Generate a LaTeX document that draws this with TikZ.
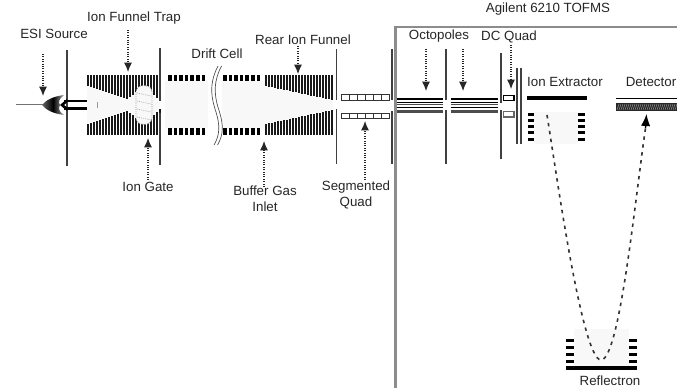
\documentclass[tikz,border=0pt]{standalone}
\usepackage{fontspec}
\setmainfont{Liberation Sans}
\usetikzlibrary{arrows.meta,shadings}
\definecolor{haze}{HTML}{F8F8F8}
\tikzset{
 x=0.75pt,y=-0.75pt,
 lbl/.style={inner sep=0pt,font=\fontsize{10pt}{12pt}\selectfont,text=black!85,align=center},
 plate/.style={line width=1.1pt,black!75},
 call/.style={densely dotted,line width=0.8pt,black!85,-{Latex[length=7pt,width=6pt]}},
 flight/.style={dash pattern=on 2.6pt off 3.4pt,line width=1.2pt,black!80},
 blk/.style={fill=black,draw=none},
 cell/.style={draw=black!80,fill=white,line width=0.7pt},
 gbox/.style={draw=black!45,line width=2pt},
}
\begin{document}
\begin{tikzpicture}
\useasboundingbox (0,0) rectangle (677,388);
\fill[white] (0,0) rectangle (677,388);
% instrument box
\draw[gbox] (395.5,389) -- (395.5,27) -- (678,27);
% haze regions
\fill[haze] (87,86) -- (129,99) -- (133,88) -- (150,92) -- (160,103) -- (160,107) -- (150,118) -- (133,122) -- (129,111) -- (87,124) -- cycle;
\fill[haze] (165,81) rectangle (208,128);
\fill[haze] (222,81) -- (265,81) -- (333,101) -- (333,109) -- (265,129) -- (222,129) -- cycle;
\fill[haze] (534,112) rectangle (578,144);
\fill[haze] (574,329) rectangle (629,366);
% funnel trap bars
\foreach \k in {0,...,13}{
 \pgfmathsetmacro\xx{88+3*\k}
 \pgfmathsetmacro\dd{11+13*\k/13}
 \fill[black!90] (\xx-0.9,75) rectangle (\xx+0.9,75+\dd);
 \fill[black!90] (\xx-0.9,135) rectangle (\xx+0.9,135-\dd);
}
\foreach \k in {14,...,24}{
 \pgfmathsetmacro\xx{88+3*\k}
 \pgfmathsetmacro\dd{(\k<20)?(24-2.2*(\k-13)):(14+3*(\k-20))}
 \fill[black!90] (\xx-0.9,75) rectangle (\xx+0.9,75+\dd);
 \fill[black!90] (\xx-0.9,135) rectangle (\xx+0.9,135-\dd);
}
% ion gate
\node[draw=black!45,densely dotted,fill=haze,rounded corners=5pt,minimum width=12pt,minimum height=29pt,inner sep=0pt,line width=0.6pt] (gate) at (144,105) {};
\foreach \k in {0,...,3}{
 \draw[black!45,densely dotted,line width=0.5pt] (137,{93+8*\k}) -- (151,{96+8*\k});
}
\fill[black!40] (96.5,102) rectangle (97.5,108);
% drift cell bars
\foreach \x in {168,173.6,179.2,184.8,190.4,196,201.6,223,228.6,234.2,239.8,245.4,251,256.6}{
 \fill[black] (\x,75) rectangle (\x+3.6,81);
 \fill[black] (\x,128) rectangle (\x+3.6,135);
}
% drift break
\fill[white] (208,60) rectangle (222,150);
\foreach \d in {0,3.5}{
 \draw[black!70,line width=0.5pt] (218+\d,66) .. controls (208+\d,85) and (212+\d,100) .. (216+\d,112) .. controls (220+\d,125) and (220+\d,135) .. (214+\d,145);
}
% rear funnel
\foreach \k in {0,...,22}{
 \pgfmathsetmacro\xx{266+3*\k}
 \pgfmathsetmacro\dd{11+14*\k/22}
 \fill[black!90] (\xx-0.9,75) rectangle (\xx+0.9,75+\dd);
 \fill[black!90] (\xx-0.9,135) rectangle (\xx+0.9,135-\dd);
}
% plates
\draw[plate] (67,50) -- (67,166);
\draw[plate] (160,48) -- (160,101) (160,113) -- (160,165);
\draw[plate] (336.5,49) -- (336.5,100) (336.5,109) -- (336.5,164);
\draw[plate] (392,49) -- (392,100) (392,111) -- (392,164);
\draw[plate] (446,49) -- (446,100) (446,110) -- (446,164);
\draw[plate] (501,53) -- (501,103) (501,110) -- (501,159);
\draw[plate] (517,68) -- (517,144);
\draw[plate] (521,68) -- (521,144);
% segmented quad
\foreach \k in {0,...,5}{
 \draw[cell] ({341+8*\k},94.5) rectangle ({349+8*\k},100);
 \draw[cell] ({341+8*\k},113.5) rectangle ({349+8*\k},118.5);
}
% octopoles
\foreach \a/\b in {397/443,451/498}{
 \fill[black] (\a,98) rectangle (\b,100.5);
 \draw[black,line width=0.6pt] (\a,102.5) -- (\b,102.5);
 \draw[black!70,line width=0.6pt] (\a,104.5) -- (\b,104.5);
 \draw[black,line width=0.8pt] (\a,107.5) -- (\b,107.5);
 \fill[black!70] (\a,110) rectangle (\b,113.5);
}
% DC quad
\draw[cell,line width=0.8pt,draw=black] (503.5,95.5) rectangle (514,100.5);
\draw[cell,line width=1pt,draw=black!60] (503.5,111.5) rectangle (514,117);
% ion extractor
\fill[blk] (527,96.5) rectangle (587,100.5);
\foreach \y in {115,121,127,133,140}{
 \fill[blk] (528,\y-1.5) rectangle (534,\y+1.5);
 \fill[blk] (578,\y-1.5) rectangle (585,\y+1.5);
}
% detector
\draw[black,line width=0.75pt] (616,98.5) -- (677,98.5);
\fill[black!85] (616,103) rectangle (677,111);
\foreach \k in {0,...,29}{
 \draw[black!45,line width=0.4pt] ({617+2*\k},110) -- ({619+2*\k},104);
}
% reflectron
\fill[blk] (566,366) rectangle (637,370);
\foreach \y in {340,347,354,361}{
 \fill[blk] (566,\y-1.5) rectangle (574,\y+1.5);
 \fill[blk] (629,\y-1.5) rectangle (637,\y+1.5);
}
% source
\draw[black!55,line width=1.6pt] (16,105) -- (44,105);
\draw[white,line width=0.4pt] (16,105) -- (44,105);
\shade[left color=black!60,right color=black!35,middle color=black] (42,105) .. controls (46,100) and (53,96.5) .. (64,95) .. controls (59,99) and (58,102) .. (60,105) .. controls (58,108) and (59,112) .. (64,115) .. controls (53,113.5) and (46,110) .. (42,105) -- cycle;
\fill[black] (64,100.5) rectangle (87,102.5);
\fill[black] (64,107.5) rectangle (87,110);
\fill[black] (60,105) -- (67,99) -- (67,102.5) -- (64,105) -- (67,107.5) -- (67,111) -- cycle;
% labels
\node[lbl] (agilent) at (548,9) {Agilent 6210 TOFMS};
\node[lbl] (trap) at (134,18) {Ion Funnel Trap};
\node[lbl] (esi) at (54,34) {ESI Source};
\node[lbl] (drift) at (217,54) {Drift Cell};
\node[lbl] (rear) at (303,40) {Rear Ion Funnel};
\node[lbl] (octo) at (439,36) {Octopoles};
\node[lbl] (dcq) at (509,37) {DC Quad};
\node[lbl] (extr) at (565,82) {Ion Extractor};
\node[lbl] (det) at (651,82) {Detector};
\node[lbl] (igate) at (148,187) {Ion Gate};
\node[lbl] (buffer) at (265,199) {Buffer Gas\\Inlet};
\node[lbl] (segq) at (356,195) {Segmented\\Quad};
\node[lbl] (refl) at (610,381) {Reflectron};
% callouts
\coordinate (esiA) at (43,54); \coordinate (esiB) at (43,96);
\coordinate (trapA) at (128,30); \coordinate (trapB) at (128,72);
\coordinate (gateA) at (148,180); \coordinate (gateB) at (148,138);
\coordinate (rearA) at (298,46); \coordinate (rearB) at (298,74);
\coordinate (bufA) at (264,187); \coordinate (bufB) at (264,141);
\coordinate (segA) at (365,180); \coordinate (segB) at (365,121);
\coordinate (oaA) at (426,49); \coordinate (oaB) at (426,91);
\coordinate (obA) at (463,49); \coordinate (obB) at (463,91);
\coordinate (dcA) at (511,45); \coordinate (dcB) at (511,89);
\draw[call] (esiA) -- (esiB);
\draw[call] (trapA) -- (trapB);
\draw[call] (gateA) -- (gateB);
\draw[call] (rearA) -- (rearB);
\draw[call] (bufA) -- (bufB);
\draw[call] (segA) -- (segB);
\draw[call] (oaA) -- (oaB);
\draw[call] (obA) -- (obB);
\draw[call] (dcA) -- (dcB);
% ion flight
\coordinate (flightA) at (547,115);
\coordinate (flightV) at (601,360);
\coordinate (flightB) at (646,125);
\draw[flight] (flightA) .. controls (556,170) and (582,360) .. (flightV) .. controls (620,360) and (636,190) .. (flightB);
\coordinate (tipA) at (645.5,128); \coordinate (tipB) at (646.5,114);
\draw[black,line width=1pt,-{Latex[length=9pt,width=7pt]}] (tipA) -- (tipB);
\end{tikzpicture}
\end{document}
